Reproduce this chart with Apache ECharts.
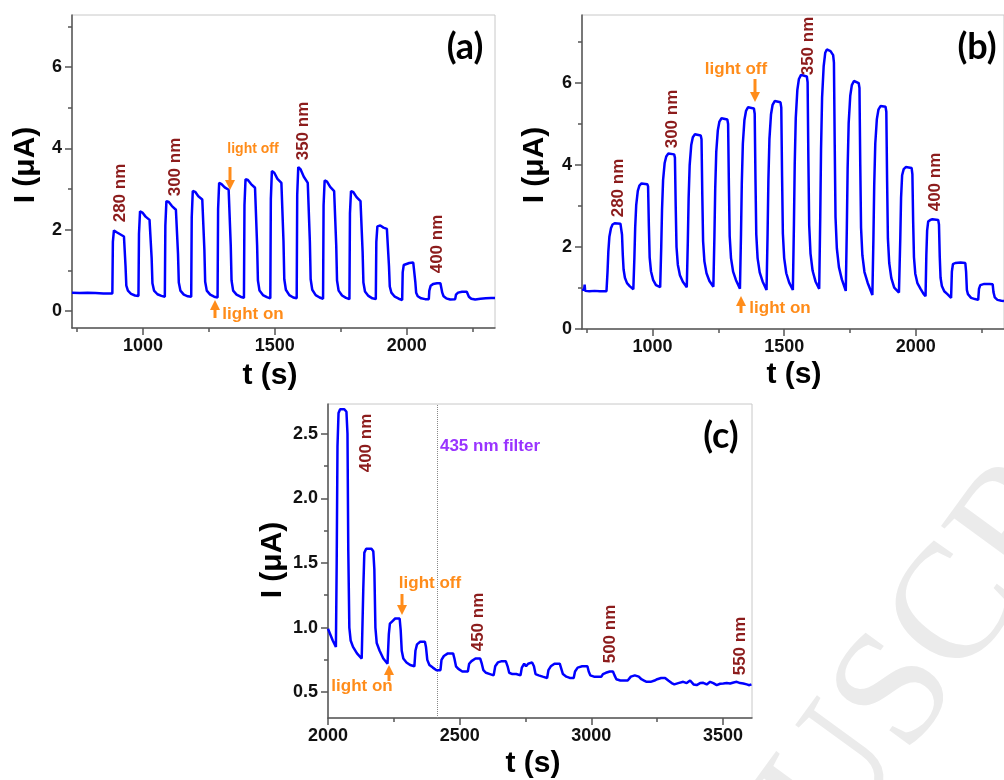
<!DOCTYPE html>
<html><head><meta charset="utf-8">
<script src="https://cdn.jsdelivr.net/npm/echarts@6/dist/echarts.min.js"></script>
<style>html,body{margin:0;padding:0;background:#fff}#chart{width:1004px;height:780px}</style>
</head><body><div id="chart"></div>
<script>
// ---------- data: [t (s), I (uA)] ----------
const seriesA = [
[731,0.45],[760,0.44],[790,0.45],[820,0.44],[850,0.43],[884,0.43],
[886,1.70],[890,1.98],[894,2.00],[902,1.93],[915,1.88],[928,1.83],[932,1.80],[934,1.10],[937,0.62],[943,0.50],[955,0.42],[970,0.38],[983,0.37],
[985,1.90],[989,2.45],[992,2.48],[998,2.42],[1010,2.32],[1025,2.24],[1031,2.20],[1033,1.30],[1036,0.68],[1042,0.50],[1055,0.41],[1070,0.37],[1083,0.35],
[1085,2.10],[1089,2.70],[1092,2.74],[1098,2.68],[1110,2.58],[1125,2.49],[1131,2.45],[1133,1.40],[1136,0.70],[1142,0.50],[1155,0.40],[1170,0.36],[1183,0.35],
[1185,2.30],[1189,2.95],[1192,2.99],[1198,2.93],[1210,2.82],[1225,2.74],[1231,2.70],[1233,1.50],[1236,0.72],[1242,0.50],[1255,0.40],[1270,0.35],[1283,0.33],
[1285,2.50],[1289,3.15],[1292,3.19],[1298,3.12],[1310,3.04],[1325,2.98],[1331,2.95],[1333,1.60],[1336,0.75],[1342,0.50],[1355,0.40],[1370,0.35],[1383,0.32],
[1385,2.60],[1389,3.24],[1392,3.28],[1398,3.22],[1410,3.12],[1425,3.03],[1431,2.99],[1433,1.60],[1436,0.75],[1442,0.50],[1455,0.39],[1470,0.34],[1483,0.31],
[1485,2.75],[1489,3.44],[1492,3.48],[1498,3.40],[1510,3.25],[1525,3.15],[1531,3.11],[1533,1.70],[1536,0.78],[1542,0.52],[1555,0.39],[1570,0.33],[1583,0.31],
[1585,2.85],[1589,3.54],[1592,3.58],[1598,3.48],[1610,3.30],[1625,3.15],[1631,3.11],[1633,1.70],[1636,0.78],[1642,0.52],[1655,0.39],[1670,0.33],[1683,0.30],
[1685,2.60],[1689,3.21],[1692,3.25],[1698,3.18],[1710,3.05],[1725,2.95],[1731,2.91],[1733,1.60],[1736,0.75],[1742,0.50],[1755,0.38],[1770,0.32],[1783,0.29],
[1785,2.40],[1789,2.95],[1792,2.99],[1798,2.92],[1810,2.80],[1825,2.70],[1831,2.66],[1833,1.45],[1836,0.70],[1842,0.48],[1855,0.37],[1870,0.31],[1883,0.29],
[1885,1.70],[1889,2.08],[1893,2.12],[1900,2.10],[1912,2.05],[1925,2.02],[1931,2.00],[1933,1.10],[1936,0.60],[1942,0.45],[1955,0.35],[1970,0.30],[1983,0.27],
[1985,0.95],[1989,1.13],[1995,1.17],[2010,1.18],[2025,1.19],[2031,1.18],[2033,0.70],[2036,0.45],[2042,0.36],[2055,0.31],[2070,0.29],[2084,0.29],
[2086,0.50],[2091,0.62],[2100,0.66],[2115,0.68],[2128,0.68],[2132,0.67],[2135,0.45],[2140,0.36],[2150,0.31],[2165,0.28],[2184,0.29],
[2187,0.40],[2195,0.45],[2210,0.47],[2228,0.47],[2232,0.46],[2236,0.35],[2245,0.30],[2260,0.28],[2280,0.30],[2300,0.31],[2320,0.32],[2335,0.32]
];
const seriesB = [
[732,0.95],[737,0.94],[740,0.96],[742,1.08],[744,0.93],[760,0.92],[780,0.93],[800,0.92],[825,0.92],
[829,1.40],[832,1.88],[836,2.25],[842,2.46],[848,2.55],[856,2.58],[878,2.57],[881,2.53],[884,2.30],[887,1.80],[890,1.45],[895,1.25],[903,1.12],[914,1.04],[927,0.97],
[931,1.74],[934,2.47],[938,3.03],[944,3.37],[950,3.50],[958,3.55],[980,3.53],[983,3.48],[986,2.52],[989,1.75],[994,1.41],[1002,1.20],[1013,1.07],[1029,1.02],
[1033,2.00],[1036,2.91],[1040,3.63],[1046,4.05],[1052,4.21],[1060,4.28],[1082,4.26],[1085,4.18],[1088,2.98],[1091,2.00],[1096,1.57],[1104,1.31],[1115,1.15],[1130,1.02],
[1134,2.14],[1137,3.18],[1141,4.00],[1147,4.49],[1153,4.68],[1161,4.75],[1183,4.72],[1186,4.63],[1189,3.26],[1192,2.14],[1197,1.65],[1205,1.36],[1216,1.17],[1231,1.03],
[1235,2.26],[1238,3.41],[1242,4.32],[1248,4.85],[1254,5.06],[1262,5.14],[1284,5.11],[1287,5.00],[1290,3.50],[1293,2.26],[1298,1.73],[1306,1.40],[1317,1.19],[1332,0.98],
[1336,2.31],[1339,3.55],[1343,4.52],[1349,5.10],[1355,5.32],[1363,5.41],[1385,5.38],[1388,5.25],[1391,3.64],[1394,2.31],[1399,1.73],[1407,1.38],[1418,1.16],[1433,0.95],
[1437,2.33],[1440,3.62],[1444,4.64],[1450,5.24],[1456,5.47],[1464,5.56],[1486,5.53],[1489,5.40],[1492,3.72],[1495,2.33],[1500,1.73],[1508,1.36],[1519,1.13],[1533,0.95],
[1537,2.53],[1540,4.00],[1544,5.15],[1550,5.83],[1556,6.10],[1564,6.20],[1586,6.16],[1589,6.02],[1592,4.10],[1595,2.53],[1600,1.84],[1608,1.42],[1619,1.16],[1633,0.98],
[1637,2.73],[1640,4.37],[1644,5.65],[1650,6.41],[1656,6.74],[1662,6.82],[1676,6.78],[1686,6.68],[1689,6.50],[1692,4.48],[1695,2.73],[1700,1.97],[1708,1.51],[1719,1.21],[1734,0.93],
[1738,2.47],[1741,3.90],[1745,5.03],[1751,5.69],[1757,5.95],[1765,6.05],[1783,6.00],[1786,5.88],[1789,4.00],[1792,2.47],[1797,1.80],[1805,1.39],[1817,1.13],[1835,0.83],
[1839,2.21],[1842,3.50],[1846,4.52],[1852,5.12],[1858,5.35],[1866,5.44],[1885,5.42],[1888,5.30],[1891,3.60],[1894,2.21],[1899,1.61],[1907,1.24],[1918,1.01],[1936,0.89],
[1941,2.20],[1944,3.20],[1948,3.75],[1954,3.90],[1962,3.95],[1984,3.93],[1987,3.78],[1990,2.60],[1993,1.75],[1998,1.35],[2006,1.12],[2018,0.98],[2030,0.85],[2037,0.80],
[2040,1.80],[2043,2.40],[2047,2.62],[2055,2.66],[2063,2.68],[2085,2.66],[2088,2.55],[2091,1.75],[2094,1.25],[2099,1.05],[2108,0.92],[2120,0.85],[2134,0.76],
[2137,1.40],[2141,1.58],[2150,1.61],[2170,1.62],[2188,1.61],[2191,1.40],[2194,0.95],[2198,0.85],[2210,0.76],[2225,0.73],[2237,0.71],
[2240,0.98],[2245,1.07],[2260,1.10],[2280,1.10],[2292,1.09],[2295,0.90],[2300,0.77],[2310,0.71],[2325,0.69],[2335,0.68]
];
const seriesC = [
[2000,0.99],[2008,0.95],[2018,0.90],[2030,0.85],[2033,1.50],[2036,2.40],[2040,2.66],[2046,2.69],[2062,2.69],[2070,2.67],[2074,2.50],[2077,1.60],[2081,1.00],[2086,0.90],[2095,0.85],[2110,0.80],[2128,0.76],
[2131,0.76],[2134,1.30],[2138,1.58],[2145,1.61],[2165,1.61],[2172,1.59],[2176,1.45],[2180,1.00],[2185,0.88],[2196,0.82],[2210,0.76],[2226,0.72],
[2231,0.95],[2235,1.03],[2245,1.05],[2255,1.07],[2272,1.07],[2276,0.98],[2280,0.82],[2286,0.76],[2298,0.73],[2312,0.71],[2328,0.70],
[2332,0.82],[2338,0.87],[2350,0.89],[2368,0.89],[2372,0.85],[2377,0.75],[2385,0.71],[2398,0.69],[2412,0.67],[2427,0.67],
[2431,0.75],[2440,0.78],[2455,0.80],[2475,0.80],[2480,0.76],[2486,0.70],[2495,0.68],[2510,0.66],[2531,0.66],
[2536,0.72],[2545,0.74],[2560,0.76],[2578,0.76],[2584,0.72],[2590,0.67],[2600,0.65],[2615,0.64],[2629,0.63],
[2635,0.70],[2645,0.73],[2660,0.74],[2675,0.74],[2682,0.70],[2688,0.65],[2700,0.64],[2715,0.64],[2731,0.63],
[2736,0.69],[2745,0.72],[2752,0.70],[2760,0.72],[2775,0.73],[2782,0.70],[2788,0.64],[2800,0.63],[2815,0.62],[2832,0.61],
[2837,0.67],[2846,0.70],[2860,0.72],[2880,0.72],[2886,0.68],[2892,0.64],[2905,0.62],[2918,0.61],[2933,0.61],
[2938,0.66],[2948,0.69],[2965,0.70],[2985,0.70],[2990,0.66],[2996,0.63],[3010,0.62],[3025,0.62],[3038,0.62],
[3044,0.64],[3055,0.65],[3070,0.66],[3082,0.66],[3088,0.63],[3095,0.60],[3110,0.59],[3125,0.59],[3138,0.59],
[3150,0.62],[3165,0.63],[3180,0.62],[3190,0.60],[3200,0.59],[3210,0.58],[3225,0.58],[3240,0.59],
[3250,0.60],[3265,0.61],[3280,0.61],[3292,0.59],[3305,0.57],[3315,0.56],[3330,0.57],
[3349,0.58],[3362,0.57],[3375,0.59],[3388,0.56],[3400,0.555],[3413,0.57],[3425,0.572],[3438,0.56],[3451,0.58],[3463,0.57],[3476,0.555],[3489,0.565],[3501,0.567],[3514,0.57],[3527,0.567],[3540,0.575],[3552,0.58],[3565,0.57],[3577,0.567],[3590,0.56],[3600,0.554],[3608,0.56]
];
const filterTime = [2414];

// tick values
const xTicksAB = [1000, 1500, 2000];
const xMinorAB = [750, 1250, 1750, 2250];
const yTicksAB = [0, 2, 4, 6];
const yMinorAB = [1, 3, 5, 7];
const xTicksC = [2000, 2500, 3000, 3500];
const xMinorC = [2250, 2750, 3250];
const yTicksC = [0.5, 1.0, 1.5, 2.0, 2.5];
const yMinorC = [0.75, 1.25, 1.75, 2.25];

// axis ranges
const rangeA = {x: [731, 2335], y: [-0.42, 7.28]};
const rangeB = {x: [732, 2335], y: [0, 7.66]};
const rangeC = {x: [2000, 3610], y: [0.30, 2.73]};

// ---------- styling ----------
const FONT = '"Liberation Sans", Arial, sans-serif';
const AX = '#555';
const ORANGE = '#ff8c1a';
const MAROON = '#8c1c1c';
const PURPLE = '#9933ff';

function mainX(g, r, ticks, fmt) {
  return {type: 'value', gridIndex: g, min: r[0], max: r[1], position: 'bottom',
    axisLine: {show: true, onZero: false, lineStyle: {color: AX, width: 1.5}},
    axisTick: {show: true, length: 7, customValues: ticks, lineStyle: {color: AX, width: 1.5}},
    axisLabel: {customValues: ticks, margin: 9, fontSize: 18, fontWeight: 'bold', color: '#111', fontFamily: FONT, formatter: fmt},
    splitLine: {show: false}};
}
function minorX(g, r, ticks) {
  return {type: 'value', gridIndex: g, min: r[0], max: r[1], position: 'bottom',
    axisLine: {show: false, onZero: false},
    axisTick: {show: true, length: 4, customValues: ticks, lineStyle: {color: AX, width: 1.5}},
    axisLabel: {show: false}, splitLine: {show: false}};
}
function mainY(g, r, ticks, fmt) {
  return {type: 'value', gridIndex: g, min: r[0], max: r[1], position: 'left',
    axisLine: {show: true, onZero: false, lineStyle: {color: AX, width: 1.5}},
    axisTick: {show: true, length: 7, customValues: ticks, lineStyle: {color: AX, width: 1.5}},
    axisLabel: {customValues: ticks, margin: 10, fontSize: 18, fontWeight: 'bold', color: '#111', fontFamily: FONT, formatter: fmt},
    splitLine: {show: false}};
}
function minorY(g, r, ticks) {
  return {type: 'value', gridIndex: g, min: r[0], max: r[1], position: 'left',
    axisLine: {show: false, onZero: false},
    axisTick: {show: true, length: 4, customValues: ticks, lineStyle: {color: AX, width: 1.5}},
    axisLabel: {show: false}, splitLine: {show: false}};
}
const fInt = v => String(Math.round(v));
const fOne = v => v.toFixed(1);

function vlabel(text, x, y) {
  return {type: 'text', x: x, y: y, rotation: Math.PI / 2, z: 20,
    style: {text: text, fill: MAROON, font: 'bold 17px ' + FONT, textAlign: 'center', textVerticalAlign: 'middle'}};
}
function htext(text, x, y, color, size) {
  return {type: 'text', x: x, y: y, z: 20,
    style: {text: text, fill: color, font: 'bold ' + size + 'px ' + FONT, textAlign: 'center', textVerticalAlign: 'middle'}};
}
function arrowDown(x, y1, y2) {
  return [
    {type: 'line', z: 20, shape: {x1: x, y1: y1, x2: x, y2: y2 - 8}, style: {stroke: ORANGE, lineWidth: 3}},
    {type: 'polygon', z: 20, shape: {points: [[x - 5, y2 - 10], [x + 5, y2 - 10], [x, y2]]}, style: {fill: ORANGE}}
  ];
}
function arrowUp(x, y1, y2) {
  return [
    {type: 'line', z: 20, shape: {x1: x, y1: y1, x2: x, y2: y2 + 8}, style: {stroke: ORANGE, lineWidth: 3}},
    {type: 'polygon', z: 20, shape: {points: [[x - 5, y2 + 10], [x + 5, y2 + 10], [x, y2]]}, style: {fill: ORANGE}}
  ];
}
function panelTag(text, x, y) {
  return {type: 'text', x: x, y: y, z: 20,
    style: {text: text, fill: '#000', font: 'bold 36px Lato, "Open Sans", sans-serif', textAlign: 'center', textVerticalAlign: 'middle'}};
}
function axisTitle(text, x, y, rot) {
  return {type: 'text', x: x, y: y, rotation: rot ? Math.PI / 2 : 0, z: 20,
    style: {text: text, fill: '#000', font: 'bold 30px ' + FONT, textAlign: 'center', textVerticalAlign: 'middle'}};
}

const graphics = [
  {type: 'text', x: 574, y: 1138, rotation: 0.94, z: 0,
    style: {text: 'MANUSCRIPT', fill: '#ebebeb', font: '165px "Liberation Serif", "DejaVu Serif", serif', textAlign: 'left', textVerticalAlign: 'middle'}},
  // panel (a)
  panelTag('(a)', 465, 47),
  vlabel('280 nm', 120, 193), vlabel('300 nm', 175, 167), vlabel('350 nm', 303, 131), vlabel('400 nm', 437, 244),
  htext('light off', 253, 149, ORANGE, 14), ...arrowDown(230, 167, 190),
  htext('light on', 253, 314, ORANGE, 17), ...arrowUp(215, 318, 300),
  axisTitle('I (\u03bcA)', 26, 165, true), axisTitle('t (s)', 270, 376, false),
  // panel (b)
  panelTag('(b)', 977, 47),
  vlabel('280 nm', 618, 188), vlabel('300 nm', 672, 119), vlabel('350 nm', 808, 46), vlabel('400 nm', 935, 182),
  htext('light off', 736, 69, ORANGE, 17), ...arrowDown(755, 79, 102),
  htext('light on', 780, 308, ORANGE, 17), ...arrowUp(741, 313, 296),
  axisTitle('I (\u03bcA)', 535, 165, true), axisTitle('t (s)', 794, 375, false),
  // panel (c)
  panelTag('(c)', 721, 436),
  vlabel('400 nm', 366, 443), vlabel('450 nm', 478, 622), vlabel('500 nm', 610, 634), vlabel('550 nm', 740, 646),
  htext('435 nm filter', 490, 446, PURPLE, 17),
  htext('light off', 430, 583, ORANGE, 17), ...arrowDown(402, 594, 615),
  htext('light on', 362, 686, ORANGE, 17), ...arrowUp(389, 681, 665),
  axisTitle('I (\u03bcA)', 273, 560, true), axisTitle('t (s)', 533, 764, false)
];

const lineStyle = {color: '#0000ff', width: 2.5};
const option = {
  animation: false,
  backgroundColor: '#fff',
  grid: [
    {left: 72, top: 15, width: 423, height: 313, show: true, borderColor: '#c8c8c8', borderWidth: 1, containLabel: false},
    {left: 582, top: 15, width: 425, height: 314, show: true, borderColor: '#c8c8c8', borderWidth: 1, containLabel: false},
    {left: 328, top: 404, width: 424, height: 314, show: true, borderColor: '#c8c8c8', borderWidth: 1, containLabel: false}
  ],
  xAxis: [
    mainX(0, rangeA.x, xTicksAB, fInt), minorX(0, rangeA.x, xMinorAB),
    mainX(1, rangeB.x, xTicksAB, fInt), minorX(1, rangeB.x, xMinorAB),
    mainX(2, rangeC.x, xTicksC, fInt), minorX(2, rangeC.x, xMinorC)
  ],
  yAxis: [
    mainY(0, rangeA.y, yTicksAB, fInt), minorY(0, rangeA.y, yMinorAB),
    mainY(1, rangeB.y, yTicksAB, fInt), minorY(1, rangeB.y, yMinorAB),
    mainY(2, rangeC.y, yTicksC, fOne), minorY(2, rangeC.y, yMinorC)
  ],
  series: [
    {type: 'line', xAxisIndex: 0, yAxisIndex: 0, data: seriesA, showSymbol: false, lineStyle: lineStyle, clip: true, z: 5},
    {type: 'line', xAxisIndex: 2, yAxisIndex: 2, data: seriesB, showSymbol: false, lineStyle: lineStyle, clip: true, z: 5},
    {type: 'line', xAxisIndex: 4, yAxisIndex: 4, data: seriesC, showSymbol: false, lineStyle: lineStyle, clip: true, z: 5,
      markLine: {silent: true, symbol: 'none', label: {show: false},
        lineStyle: {type: 'dotted', color: '#888', width: 1},
        data: filterTime.map(t => ({xAxis: t}))}}
  ],
  graphic: {elements: graphics}
};
const chart = echarts.init(document.getElementById('chart'), null, {renderer: 'canvas'});
chart.setOption(option);
</script>
</body></html>
